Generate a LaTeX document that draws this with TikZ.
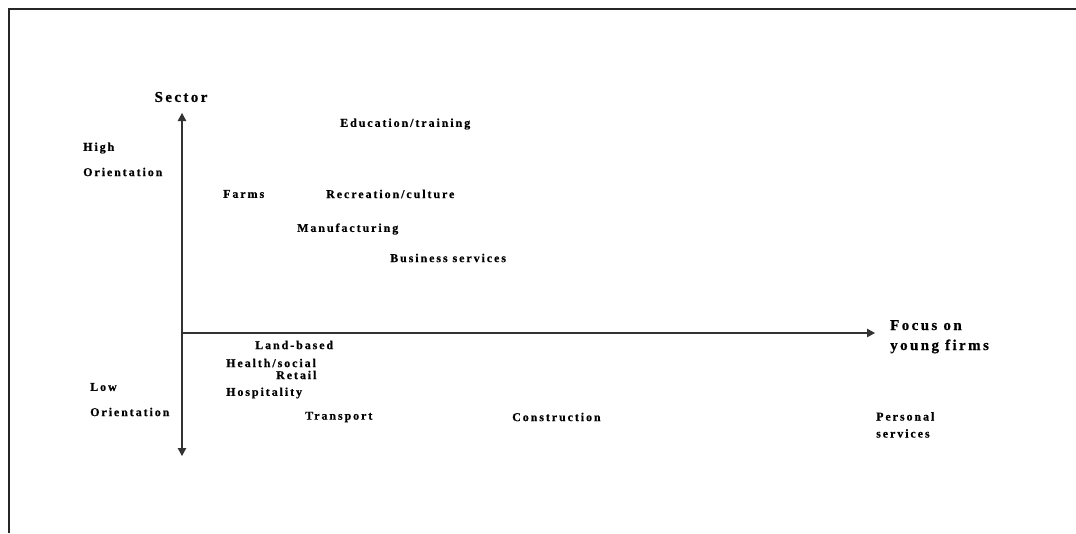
\documentclass[tikz,border=0pt]{standalone}
\usepackage{fontspec}
\setmainfont{Liberation Serif}[LetterSpace=16, BoldFont={Liberation Serif Bold}, BoldFeatures={FakeBold=0.6}]
\usetikzlibrary{arrows.meta}
\begin{document}
\begin{tikzpicture}[x=1pt,y=-1pt,
  lbl/.style={font=\fontsize{12}{13}\selectfont\bfseries, inner sep=0pt, anchor=west},
  axlbl/.style={font=\fontsize{15}{20}\selectfont\bfseries, inner sep=0pt},
  axis/.style={line width=1.1pt, draw=black!80, -{Triangle[length=8pt,width=8.5pt]}}]
  % canvas
  \useasboundingbox (0,0) rectangle (1076,533);
  % frame edges
  \draw[line width=2.2pt, black!85] (9.3,533) -- (9.3,9.3) -- (1076,9.3);

  % axes
  \coordinate (O) at (182,333);
  \coordinate (top) at (182,113);
  \coordinate (bot) at (182,456);
  \coordinate (right) at (875,333);
  \draw[axis] (O) -- (top);
  \draw[axis] (O) -- (bot);
  \draw[axis] (O) -- (right);

  % axis titles
  \node[axlbl] (sector) at (181,97) {Sector};
  \node[axlbl, anchor=north west, align=left] (focus) at (890,320) {Focus on\\young firms};

  % orientation labels
  \node[lbl] (high) at (83,148) {High};
  \node[lbl] (highor) at (83,172) {Orientation};
  \node[lbl] (low) at (90,387) {Low};
  \node[lbl] (lowor) at (90,412) {Orientation};

  % sectors
  \node[lbl] (edu) at (340,124) {Education/training};
  \node[lbl] (farms) at (223,194) {Farms};
  \node[lbl] (rec) at (326,194) {Recreation/culture};
  \node[lbl] (manu) at (297,229) {Manufacturing};
  \node[lbl] (bus) at (390,258) {Business services};
  \node[lbl] (land) at (255,345) {Land-based};
  \node[lbl] (health) at (226,363) {Health/social};
  \node[lbl] (retail) at (276,375) {Retail};
  \node[lbl] (hosp) at (226,393) {Hospitality};
  \node[lbl] (trans) at (305,417) {Transport};
  \node[lbl] (cons) at (512,417) {Construction};
  \node[lbl, anchor=north west, align=left, font=\fontsize{12}{17}\selectfont\bfseries] (pers) at (876,412) {Personal\\services};
\end{tikzpicture}
\end{document}
